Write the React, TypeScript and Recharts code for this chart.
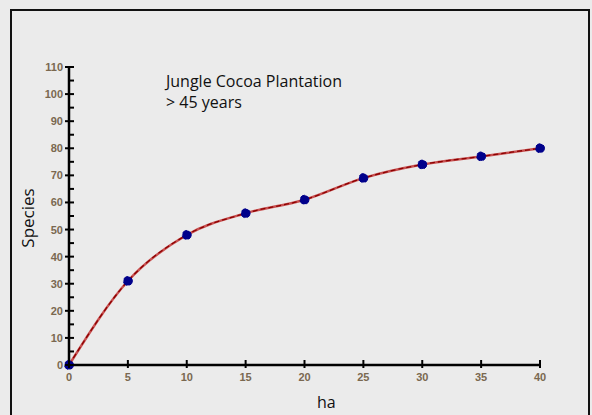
import { LineChart, Line, XAxis, YAxis } from "recharts";

const areaHa = [0, 5, 10, 15, 20, 25, 30, 35, 40];
const speciesCount = [0, 31, 48, 56, 61, 69, 74, 77, 80];
const xTicks = [0, 5, 10, 15, 20, 25, 30, 35, 40];
const yTicks = [0, 5, 10, 15, 20, 25, 30, 35, 40, 45, 50, 55, 60, 65, 70, 75, 80, 85, 90, 95, 100, 105, 110];

const data = areaHa.map((ha, i) => ({ ha, species: speciesCount[i] }));

const TICK_COLOR = "#7a6850";

function YTick(props: any) {
  const { x, y, payload } = props;
  const major = payload.value % 10 === 0;
  return (
    <g>
      <line x1={major ? x - 4 : x} x2={x + 5} y1={y} y2={y} stroke="#000" strokeWidth={2} />
      {major && (
        <text x={x - 6} y={y} dy={4} textAnchor="end" fontSize={11} fontWeight="bold" fill={TICK_COLOR} fontFamily="Liberation Sans">
          {payload.value}
        </text>
      )}
    </g>
  );
}

function XTick(props: any) {
  const { x, y, payload } = props;
  return (
    <g>
      <line x1={x} x2={x} y1={y - 5} y2={y + 3} stroke="#000" strokeWidth={2} />
      <text x={x} y={y + 16} textAnchor="middle" fontSize={11} fontWeight="bold" fill={TICK_COLOR} fontFamily="Liberation Sans">
        {payload.value}
      </text>
    </g>
  );
}

export default function App() {
  return (
    <div style={{ position: "fixed", left: 0, top: 0, width: 592, height: 415, background: "#ebebeb", overflow: "hidden" }}>
      <div
        style={{
          position: "absolute",
          left: 10,
          top: 9,
          width: 580,
          height: 420,
          border: "2px solid #111",
          boxSizing: "border-box",
        }}
      />
      <div style={{ position: "absolute", left: 0, top: 0 }}>
        <LineChart width={592} height={415} data={data} margin={{ top: 67, right: 52, bottom: 30, left: 39 }}>
          <XAxis
            dataKey="ha"
            type="number"
            domain={[0, 40]}
            ticks={xTicks}
            tick={<XTick />}
            tickLine={false}
            tickSize={0}
            tickMargin={0}
            height={20}
            axisLine={{ stroke: "#000", strokeWidth: 2.5 }}
          />
          <YAxis
            type="number"
            domain={[0, 110]}
            ticks={yTicks}
            interval={0}
            tick={<YTick />}
            tickLine={false}
            tickSize={0}
            tickMargin={0}
            width={30}
            axisLine={{ stroke: "#000", strokeWidth: 2.5 }}
          />
          <Line
            dataKey="species"
            type="monotone"
            stroke="#c85050"
            strokeWidth={2.5}
            dot={false}
            isAnimationActive={false}
          />
          <Line
            dataKey="species"
            type="monotone"
            stroke="#8b0000"
            strokeWidth={1.3}
            strokeDasharray="5 3"
            dot={{ r: 4.5, fill: "#00008b", stroke: "#00008b", strokeWidth: 1 }}
            isAnimationActive={false}
          />
        </LineChart>
      </div>
      <div
        style={{
          position: "absolute",
          left: 166,
          top: 71,
          fontFamily: "Open Sans",
          fontSize: 16,
          lineHeight: "21px",
          color: "#111",
          whiteSpace: "nowrap",
        }}
      >
        Jungle Cocoa Plantation
        <br />
        &gt; 45 years
      </div>
      <div
        style={{
          position: "absolute",
          left: 317,
          top: 392,
          fontFamily: "Open Sans",
          fontSize: 16,
          lineHeight: "21px",
          color: "#111",
        }}
      >
        ha
      </div>
      <div
        style={{
          position: "absolute",
          left: 28,
          top: 218,
          transform: "translate(-50%, -50%) rotate(-90deg)",
          fontFamily: "Open Sans",
          fontSize: 17,
          lineHeight: "20px",
          color: "#111",
          whiteSpace: "nowrap",
        }}
      >
        Species
      </div>
    </div>
  );
}
